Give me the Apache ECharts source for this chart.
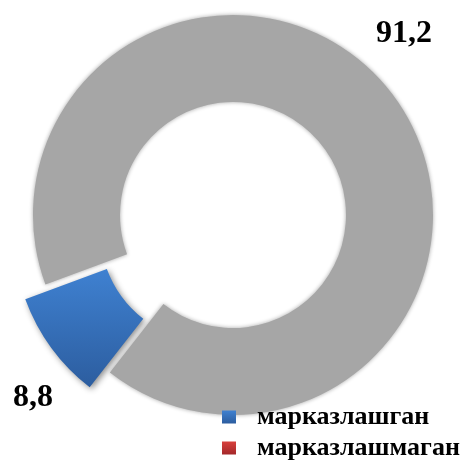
<!DOCTYPE html>
<html>
<head>
<meta charset="utf-8">
<script src="https://cdn.jsdelivr.net/npm/echarts@6/dist/echarts.min.js"></script>
<style>
html, body { margin: 0; padding: 0; background: #fff; }
.main { width: 470px; height: 470px; }
</style>
</head>
<body>
<div class="main"></div>
<script>
var categories = ['марказлашган', 'марказлашмаган'];
var values = [8.8, 91.2];

var myChart = echarts.init(document.querySelector('.main'));

var font = '"Liberation Serif", "Times New Roman", serif';

var blue = new echarts.graphic.LinearGradient(0, 0, 0, 1, [
    {offset: 0, color: '#3f81d1'},
    {offset: 1, color: '#2c5d9f'}
]);
var red = new echarts.graphic.LinearGradient(0, 0, 0, 1, [
    {offset: 0, color: '#d8403c'},
    {offset: 1, color: '#a3282a'}
]);

function fmt(v) {
    return String(v).replace('.', ',');
}

// value labels: blue one bottom-left, grey one top-right
var labelSpots = [[33, 398], [404, 34]];

option = {
    animation: false,
    legend: {
        orient: 'vertical',
        left: 222,
        top: 404,
        height: 66,
        padding: 0,
        icon: 'rect',
        itemWidth: 14,
        itemHeight: 13,
        itemGap: 5,
        selectedMode: false,
        textStyle: {
            fontFamily: font,
            fontWeight: 'bold',
            fontSize: 26,
            color: '#000',
            lineHeight: 19,
            padding: [0, 0, 0, 16]
        },
        data: [
            {name: categories[0], itemStyle: {color: blue}},
            {name: categories[1], itemStyle: {color: red}}
        ]
    },
    graphic: values.map(function (v, i) {
        return {
            type: 'text',
            x: labelSpots[i][0],
            y: labelSpots[i][1],
            style: {
                text: fmt(v),
                fontFamily: font,
                fontWeight: 'bold',
                fontSize: 32,
                fill: '#000',
                align: 'center',
                verticalAlign: 'middle'
            }
        };
    }),
    series: [{
        type: 'pie',
        center: [233, 215],
        radius: [113, 200],
        startAngle: 232,
        selectedMode: 'single',
        selectedOffset: 25,
        label: {show: false},
        labelLine: {show: false},
        emphasis: {disabled: true},
        data: [{
            name: categories[0],
            value: values[0],
            selected: true,
            itemStyle: {
                color: blue,
                shadowBlur: 6,
                shadowOffsetX: 2,
                shadowOffsetY: 2,
                shadowColor: 'rgba(0,0,0,0.45)'
            }
        }, {
            name: categories[1],
            value: values[1],
            itemStyle: {
                color: '#a6a6a6',
                shadowBlur: 4,
                shadowColor: 'rgba(166,166,166,1)'
            }
        }]
    }]
};

myChart.setOption(option);
</script>
</body>
</html>
